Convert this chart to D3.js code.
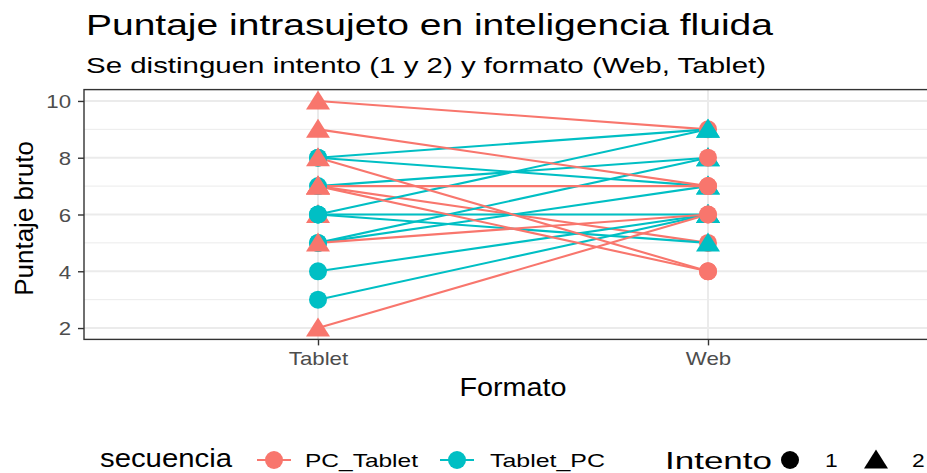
<!DOCTYPE html>
<html>
<head>
<meta charset="utf-8">
<script src="https://cdn.jsdelivr.net/npm/d3@7"></script>
<style>
  body { margin: 0; background: #fff; }
  svg { display: block; }
  text { font-family: "Liberation Sans", Arial, sans-serif; }
</style>
</head>
<body>
<svg id="chart" width="927" height="473"></svg>
<script>
// datos: un sujeto por posición
const formatos = ["Tablet", "Web"];
const secuencia = [
  "PC_Tablet", "PC_Tablet", "PC_Tablet",
  "Tablet_PC", "Tablet_PC", "Tablet_PC", "Tablet_PC", "Tablet_PC",
  "Tablet_PC", "Tablet_PC", "Tablet_PC", "Tablet_PC", "Tablet_PC",
  "PC_Tablet", "PC_Tablet", "PC_Tablet", "PC_Tablet", "PC_Tablet", "PC_Tablet", "PC_Tablet"
];
const puntajeTablet = [10, 6, 7, 8, 8, 7, 6, 6, 6, 5, 5, 4, 3, 9, 8, 7, 7, 5, 2, null];
const puntajeWeb    = [9, null, 5, 9, 7, 8, 9, 6, 5, 8, 7, 6, 6, 7, 4, 7, 4, 6, 6, 8];
const yTicks = [2, 4, 6, 8, 10];
const yMinor = [3, 5, 7, 9];
const secuencias = ["PC_Tablet", "Tablet_PC"];
const colores = ["#F8766D", "#00BFC4"];
const intentos = ["1", "2"];

const svg = d3.select("#chart");
const panel = { left: 84, right: 942, top: 89.6, bottom: 339.4 };

const x = d3.scalePoint().domain(formatos).range([panel.left, panel.right]).padding(0.6);
const y = d3.scaleLinear().domain([1.6, 10.4]).range([panel.bottom, panel.top]);
const color = d3.scaleOrdinal().domain(secuencias).range(colores);

// intento: PC_Tablet hace Web primero, Tablet_PC hace Tablet primero
const intento = (sec, f) => (sec === "PC_Tablet") === (f === "Web") ? "1" : "2";

// estira un texto en horizontal
function ensanchar(sel, k) {
  sel.each(function() {
    const w = this.getComputedTextLength();
    d3.select(this).attr("textLength", w * k).attr("lengthAdjust", "spacingAndGlyphs");
  });
}

// Titles
svg.append("text").attr("x", 86).attr("y", 35)
  .style("font-size", "30px").attr("fill", "#000")
  .text("Puntaje intrasujeto en inteligencia fluida")
  .attr("textLength", 687).attr("lengthAdjust", "spacingAndGlyphs");

svg.append("text").attr("x", 86).attr("y", 73)
  .style("font-size", "22px").attr("fill", "#000")
  .text("Se distinguen intento (1 y 2) y formato (Web, Tablet)")
  .attr("textLength", 680).attr("lengthAdjust", "spacingAndGlyphs");

// Grid
const grid = svg.append("g");
grid.selectAll(".minor").data(yMinor).enter().append("line")
  .attr("x1", panel.left).attr("x2", panel.right)
  .attr("y1", d => y(d)).attr("y2", d => y(d))
  .attr("stroke", "#EBEBEB").attr("stroke-width", 1);
grid.selectAll(".major").data(yTicks).enter().append("line")
  .attr("x1", panel.left).attr("x2", panel.right)
  .attr("y1", d => y(d)).attr("y2", d => y(d))
  .attr("stroke", "#EBEBEB").attr("stroke-width", 2);
grid.selectAll(".vx").data(formatos).enter().append("line")
  .attr("x1", d => x(d)).attr("x2", d => x(d))
  .attr("y1", panel.top).attr("y2", panel.bottom)
  .attr("stroke", "#EBEBEB").attr("stroke-width", 2);

// Lines per subject
const sujetos = secuencia.map((s, i) => ({ s, tab: puntajeTablet[i], web: puntajeWeb[i] }));
svg.append("g").selectAll("line")
  .data(sujetos.filter(d => d.tab != null && d.web != null))
  .enter().append("line")
  .attr("x1", x("Tablet")).attr("y1", d => y(d.tab))
  .attr("x2", x("Web")).attr("y2", d => y(d.web))
  .attr("stroke", d => color(d.s)).attr("stroke-width", 2.1);

// Points
const puntos = [];
sujetos.forEach(d => {
  if (d.tab != null) puntos.push({ s: d.s, f: "Tablet", v: d.tab });
  if (d.web != null) puntos.push({ s: d.s, f: "Web", v: d.web });
});
const tri = (cx, cy) => `M${cx},${cy - 10.5}L${cx + 12},${cy + 8.5}L${cx - 12},${cy + 8.5}Z`;
const circ = (cx, cy) => `M${cx - 9},${cy}a9,9 0 1,0 18,0a9,9 0 1,0 -18,0Z`;
svg.append("g").selectAll("path")
  .data(puntos).enter().append("path")
  .attr("d", d => intento(d.s, d.f) === "1" ? circ(x(d.f), y(d.v)) : tri(x(d.f), y(d.v)))
  .attr("fill", d => color(d.s));

// Panel border
svg.append("rect")
  .attr("x", panel.left).attr("y", panel.top)
  .attr("width", panel.right - panel.left).attr("height", panel.bottom - panel.top)
  .attr("fill", "none").attr("stroke", "#333333").attr("stroke-width", 1.4);

// Axes
const yAxis = svg.append("g")
  .attr("transform", `translate(${panel.left},0)`)
  .call(d3.axisLeft(y).tickValues(yTicks).tickSize(6).tickPadding(7));
const xAxis = svg.append("g")
  .attr("transform", `translate(0,${panel.bottom})`)
  .call(d3.axisBottom(x).tickSize(6).tickPadding(6));
[yAxis, xAxis].forEach(a => {
  a.select(".domain").remove();
  a.selectAll(".tick line").attr("stroke", "#333333").attr("stroke-width", 1.4);
  a.selectAll("text").attr("fill", "#4D4D4D").style("font-size", "19px")
    .attr("font-family", null);
  ensanchar(a.selectAll("text"), 1.17);
});
yAxis.selectAll("text").attr("dy", "0.36em");

// Axis titles
svg.append("text")
  .attr("x", (panel.left + panel.right) / 2).attr("y", 396)
  .attr("text-anchor", "middle").style("font-size", "25px")
  .text("Formato").call(ensanchar, 1.15);
svg.append("text")
  .attr("transform", `translate(33,${(panel.top + panel.bottom) / 2 + 4}) rotate(-90)`)
  .attr("text-anchor", "middle").style("font-size", "26px")
  .text("Puntaje bruto");

// Legend
const ly = 460;
const leg = svg.append("g");
leg.append("text").attr("x", 100).attr("y", ly + 7)
  .style("font-size", "25px").text("secuencia")
  .attr("textLength", 132).attr("lengthAdjust", "spacingAndGlyphs");

const keyX = [274, 457];
const labX = [305, 490];
const labW = [113, 115];
secuencias.forEach((s, i) => {
  leg.append("line")
    .attr("x1", keyX[i] - 17).attr("x2", keyX[i] + 17)
    .attr("y1", ly).attr("y2", ly)
    .attr("stroke", color(s)).attr("stroke-width", 2);
  leg.append("path").attr("d", circ(keyX[i], ly)).attr("fill", color(s));
  leg.append("text").attr("x", labX[i]).attr("y", ly + 7)
    .style("font-size", "19px").attr("fill", "#000").text(s)
    .attr("textLength", labW[i]).attr("lengthAdjust", "spacingAndGlyphs");
});

leg.append("text").attr("x", 665).attr("y", ly + 9)
  .style("font-size", "24px").text("Intento")
  .attr("textLength", 107).attr("lengthAdjust", "spacingAndGlyphs");
const shapeX = [790, 876];
const shapeLabX = [825, 912];
intentos.forEach((t, i) => {
  leg.append("path")
    .attr("d", t === "1" ? circ(shapeX[i], ly) : tri(shapeX[i], ly))
    .attr("fill", "#000");
  leg.append("text").attr("x", shapeLabX[i]).attr("y", ly + 7)
    .style("font-size", "19px").text(t).call(ensanchar, 1.2);
});
</script>
</body>
</html>
